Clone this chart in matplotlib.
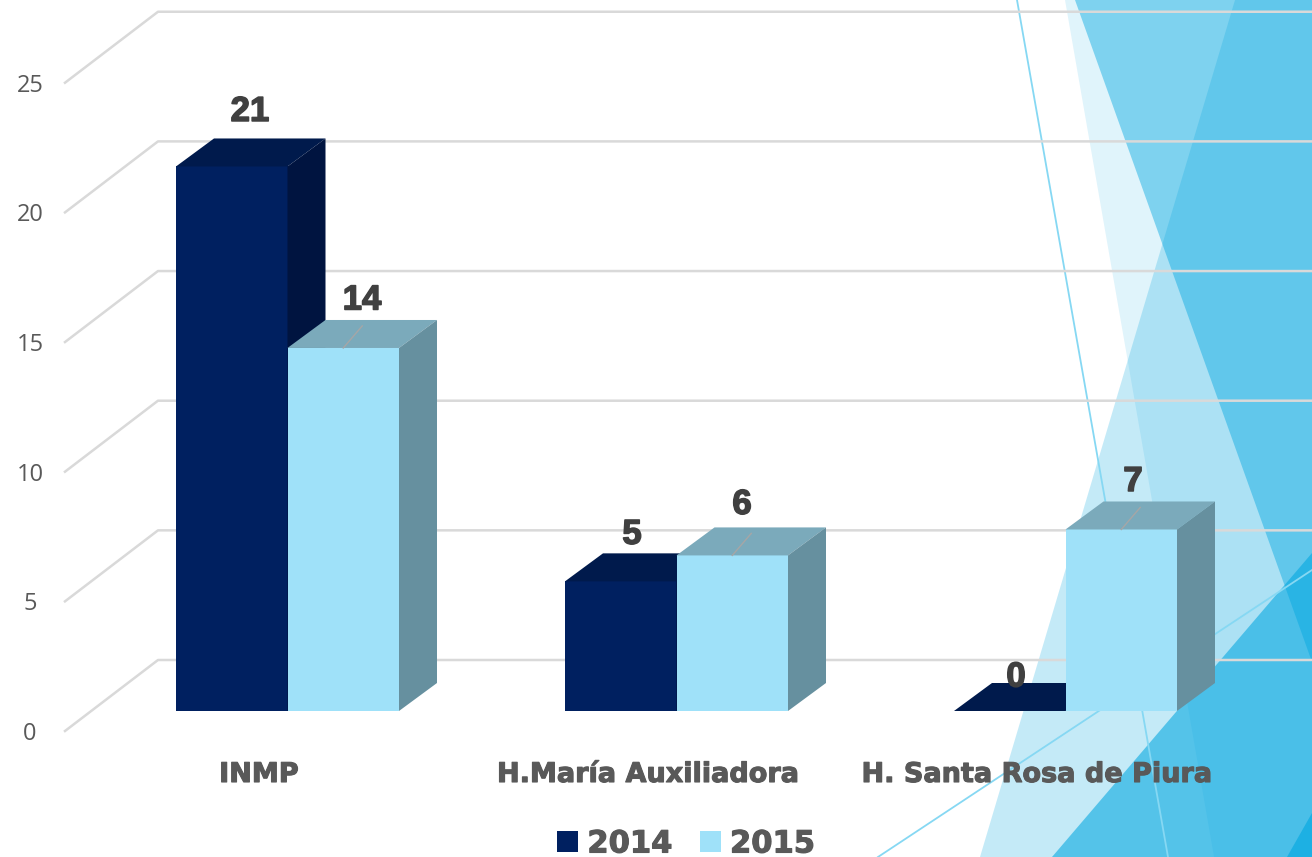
import matplotlib
matplotlib.use("Agg")
import matplotlib.pyplot as plt
import matplotlib.patheffects as pe
from matplotlib.patches import Polygon

# datos del grafico
hospitales = ["INMP", "H.María Auxiliadora", "H. Santa Rosa de Piura"]
anios = ["2014", "2015"]
v2014 = [21, 5, 0]
v2015 = [14, 6, 7]
ticks = [0, 5, 10, 15, 20, 25]

# ajuste de las etiquetas de valor (pixeles respecto al centro del grupo / tope de la barra)
lab_x2014 = [-37.5, -44.5, -49.5]
lab_x2015 = [74.5, 65.5, 67.5]
lab_y2014 = [55, 47, 34]
lab_y2015 = [48, 51, 48]

W, H = 1312, 857
PX_X = 389.0     # pixeles por categoria
PX_Y = 25.93     # pixeles por unidad
X0, Y0 = 287.5, 711.0

AZUL = "#002060"
AZUL_TOP = "#001A4C"
AZUL_SIDE = "#001440"
CELESTE = "#9FE1F9"
CELESTE_TOP = "#7BAABB"
CELESTE_SIDE = "#66909F"
GRIS = "#595959"
GRIS_LABEL = "#404040"
FONDO = "#00A6E0"

ancho = 111.5 / PX_X
dx = 38 / PX_X
dy = 28 / PX_Y

fig = plt.figure(figsize=(W / 100, H / 100), dpi=100)

# -------------------------------------------------
# Fondo (tema de la diapositiva)
# -------------------------------------------------
bg = fig.add_axes([0, 0, 1, 1], zorder=0)
bg.set_xlim(0, W)
bg.set_ylim(H, 0)
bg.axis("off")
bg.add_patch(Polygon([(1065, 0), (1214, H), (W, H), (W, 0)], fc=FONDO, alpha=0.12, lw=0))
bg.add_patch(Polygon([(1235, 0), (980, H), (W, H), (W, 0)], fc=FONDO, alpha=0.23, lw=0))
bg.add_patch(Polygon([(1075, 0), (W, 662), (W, 0)], fc=FONDO, alpha=0.435, lw=0))
bg.add_patch(Polygon([(1052, H), (W, 553), (W, H)], fc=FONDO, alpha=0.57, lw=0))
bg.add_patch(Polygon([(1287, H), (W, 813), (W, H)], fc=FONDO, alpha=0.6, lw=0))
bg.plot([1017, 1168], [0, H], color="#86D8F3", lw=1.3)
bg.plot([878, W], [H, 570], color="#86D8F3", lw=1.3)

# -------------------------------------------------
# Grafico
# -------------------------------------------------
ax = fig.add_axes([0, 0, 1, 1], zorder=1)
ax.patch.set_alpha(0)
ax.set_xlim(-X0 / PX_X, (W - X0) / PX_X)
ax.set_ylim((Y0 - H) / PX_Y, Y0 / PX_Y)
ax.axis("off")

fx = (65 - X0) / PX_X
bx = (158 - X0) / PX_X
fy = (Y0 - 731) / PX_Y
by = (Y0 - 660) / PX_Y
for t in ticks:
    ax.plot([fx, bx, ax.get_xlim()[1]], [t + fy, t + by, t + by], color="#D9D9D9", lw=1.8, zorder=1)
    ax.text((30 - X0) / PX_X, t + fy - 3 / PX_Y, str(t), ha="center", va="center", color=GRIS,
            fontsize=17, family="Open Sans", zorder=5)


def barra(x, v, color, top, side):
    ax.bar(x, v, ancho, align="edge", color=color, lw=0, zorder=3)
    ax.add_patch(Polygon([(x, v), (x + dx, v + dy), (x + ancho + dx, v + dy), (x + ancho, v)],
                         fc=top, lw=0, zorder=3))
    ax.add_patch(Polygon([(x + ancho, 0), (x + ancho + dx, dy), (x + ancho + dx, v + dy), (x + ancho, v)],
                         fc=side, lw=0, zorder=3))


efecto = [pe.withStroke(linewidth=1.1, foreground=GRIS_LABEL)]
efecto2 = [pe.withStroke(linewidth=0.8, foreground=GRIS)]

for i in range(len(hospitales)):
    barra(i - ancho, v2014[i], AZUL, AZUL_TOP, AZUL_SIDE)
    barra(i, v2015[i], CELESTE, CELESTE_TOP, CELESTE_SIDE)

    ax.text(i + lab_x2014[i] / PX_X, v2014[i] + lab_y2014[i] / PX_Y, str(v2014[i]), ha="center", va="center",
            color=GRIS_LABEL, fontsize=25, weight="bold", family="Liberation Sans",
            path_effects=efecto, zorder=6)
    ax.text(i + lab_x2015[i] / PX_X, v2015[i] + lab_y2015[i] / PX_Y, str(v2015[i]), ha="center", va="center",
            color=GRIS_LABEL, fontsize=25, weight="bold", family="Liberation Sans",
            path_effects=efecto, zorder=6)
    # lineas guia de las etiquetas
    ax.plot([i + ancho / 2, i + ancho / 2 + dx / 2], [v2015[i], v2015[i] + 0.85],
            color="#A6A6A6", lw=1, zorder=4)

    ax.text(i - 28.5 / PX_X, (Y0 - 775) / PX_Y, hospitales[i], ha="center", va="center", color=GRIS,
            fontsize=19.5, weight="bold", family="DejaVu Sans", path_effects=efecto2, zorder=6)

# leyenda
handles = [plt.Rectangle((0, 0), 1, 1, fc=AZUL, lw=0), plt.Rectangle((0, 0), 1, 1, fc=CELESTE, lw=0)]
leg = ax.legend(handles, anios, ncol=2, frameon=False, loc="center", bbox_to_anchor=(686 / W, 1 - 844 / H),
                prop={"family": "DejaVu Sans", "weight": "bold", "size": 22},
                labelcolor=GRIS, handlelength=0.69, handleheight=0.69, handletextpad=0.3,
                columnspacing=0.9, borderpad=0, borderaxespad=0)
for t in leg.get_texts():
    t.set_path_effects(efecto2)

fig.savefig("out.png", dpi=100)
